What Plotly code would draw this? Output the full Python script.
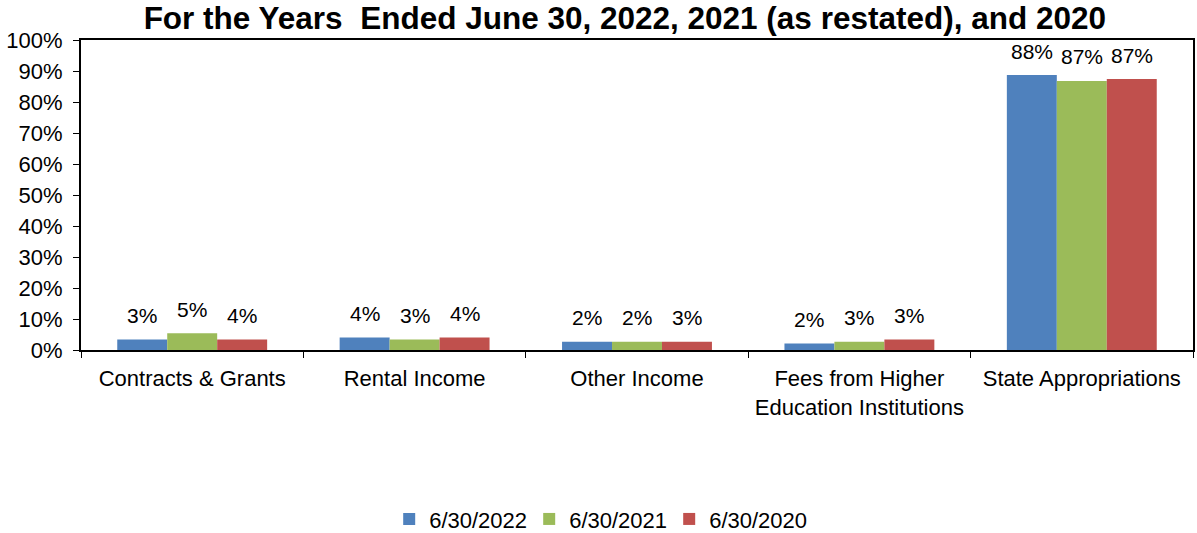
import plotly.graph_objects as go

categories = ["Contracts & Grants", "Rental Income", "Other Income",
              "Fees from Higher<br>Education Institutions", "State Appropriations"]
series_names = ["6/30/2022", "6/30/2021", "6/30/2020"]
values_2022 = [3.4, 4.0, 2.7, 2.1, 88.7]
values_2021 = [5.4, 3.4, 2.7, 2.7, 86.8]
values_2020 = [3.4, 4.0, 2.7, 3.4, 87.4]
labels_2022 = ["3%", "4%", "2%", "2%", "88%"]
labels_2021 = ["5%", "3%", "2%", "3%", "87%"]
labels_2020 = ["4%", "4%", "3%", "3%", "87%"]
colors = ["#4F81BD", "#9BBB59", "#C0504D"]
y_ticks = list(range(0, 101, 10))
y_ticktext = [f"{v}%" for v in y_ticks]

FONT = "Liberation Sans, Arial, sans-serif"

fig = go.Figure()
all_vals = [values_2022, values_2021, values_2020]
all_labels = [labels_2022, labels_2021, labels_2020]
for name, vals, col in zip(series_names, all_vals, colors):
    fig.add_trace(go.Bar(x=categories, y=vals, name=name, marker_color=col,
                         marker_line_width=0))

bar_px = 50
annotations = []
for i, (vals, labs) in enumerate(zip(all_vals, all_labels)):
    for c, v, t in zip(categories, vals, labs):
        annotations.append(dict(x=c, y=v, text=t, showarrow=False, xref="x", yref="y",
                                xshift=(i - 1) * bar_px, yshift=24, yanchor="middle",
                                font=dict(size=21, color="#000", family=FONT)))

fig.update_layout(
    width=1197, height=533,
    margin=dict(l=81, r=4, t=40, b=183, autoexpand=False),
    paper_bgcolor="white", plot_bgcolor="white",
    barmode="group", bargap=0.326, bargroupgap=0,
    font=dict(family=FONT, size=22, color="#000"),
    title=dict(text="<b>For the Years  Ended June 30, 2022, 2021 (as restated), and 2020</b>",
               x=0.522, xanchor="center", y=0.966, yanchor="middle",
               font=dict(size=31.5, family=FONT, color="#000")),
    legend=dict(orientation="h", x=0.466, xanchor="center", y=0.026, yanchor="middle",
                yref="container",
                font=dict(size=22), itemwidth=30, traceorder="normal",
                entrywidth=95, entrywidthmode="pixels"),
    annotations=annotations,
    showlegend=True,
)
fig.update_xaxes(type="category", tickson="boundaries", ticks="outside", ticklen=6,
                 tickcolor="#000", showline=True, linecolor="#000", linewidth=2,
                 mirror=True, showgrid=False, tickfont=dict(size=22),
                 automargin=False, ticklabelstandoff=8)
fig.update_yaxes(range=[0, 100], tickvals=y_ticks, ticktext=y_ticktext, ticks="outside",
                 ticklen=6, tickcolor="#000", showline=True, linecolor="#000",
                 linewidth=2, mirror=True, showgrid=False, zeroline=False,
                 tickfont=dict(size=22), ticklabelstandoff=6, automargin=False)

fig.write_html("out.html")
